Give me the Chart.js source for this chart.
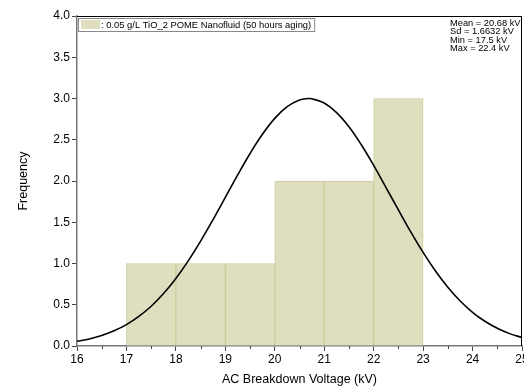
<!DOCTYPE html>
<html>
<head>
<meta charset="utf-8">
<script src="https://cdn.jsdelivr.net/npm/chart.js@4/dist/chart.umd.min.js"></script>
<style>
html,body{margin:0;padding:0;background:#fff;}
#wrap{width:524px;height:391px;position:relative;}
</style>
</head>
<body>
<div id="wrap"><canvas id="c" width="524" height="391"></canvas></div>
<script>
// Histogram bins (centers) and counts
const binCenters = [17.5, 18.5, 19.5, 20.5, 21.5, 22.5];
const binCounts  = [1, 1, 1, 2, 2, 3];
// Fitted normal curve
const curveX = [16,16.25,16.5,16.75,17,17.25,17.5,17.75,18,18.25,18.5,18.75,19,19.25,19.5,19.75,20,20.25,20.5,20.68,20.75,21,21.25,21.5,21.75,22,22.25,22.5,22.75,23,23.25,23.5,23.75,24,24.25,24.5,24.75,25];
const curveY = [0.057,0.086,0.128,0.184,0.259,0.358,0.482,0.636,0.819,1.032,1.271,1.530,1.801,2.073,2.333,2.566,2.759,2.901,2.983,3.0,2.997,2.945,2.829,2.657,2.439,2.189,1.921,1.649,1.383,1.134,0.909,0.713,0.546,0.409,0.300,0.215,0.150,0.103];
const xTicks = [16,17,18,19,20,21,22,23,24,25];
const legendLabel = ': 0.05 g/L TiO_2 POME Nanofluid (50 hours aging)';
const statsLines = ['Mean = 20.68 kV', 'Sd = 1.6632 kV', 'Min = 17.5 kV', 'Max = 22.4 kV'];

const FONT = '"Liberation Sans", Arial, sans-serif';

const decor = {
  id: 'decor',
  afterDraw(chart) {
    const ctx = chart.ctx;
    const a = chart.chartArea;
    const xs = chart.scales.x;
    ctx.save();
    // top and right frame
    ctx.strokeStyle = '#000';
    ctx.lineWidth = 1;
    ctx.beginPath();
    ctx.moveTo(a.left, a.top + 0.5);
    ctx.lineTo(a.right, a.top + 0.5);
    ctx.moveTo(a.right - 0.5, a.top);
    ctx.lineTo(a.right - 0.5, a.bottom);
    ctx.stroke();
    // minor x ticks
    ctx.strokeStyle = '#444';
    ctx.beginPath();
    for (let i = 0; i < xTicks.length - 1; i++) {
      const px = Math.round(xs.getPixelForValue(xTicks[i] + 0.5)) + 0.5;
      ctx.moveTo(px, a.bottom);
      ctx.lineTo(px, a.bottom + 3);
    }
    ctx.stroke();
    // legend box
    ctx.font = '9.4px ' + FONT;
    const lx = a.left + 1, ly = a.top + 2;
    const tw = ctx.measureText(legendLabel).width;
    const bw = 23 + tw + 3, bh = 13;
    ctx.fillStyle = '#fff';
    ctx.fillRect(lx, ly, bw, bh);
    ctx.strokeStyle = '#888';
    ctx.strokeRect(lx + 0.5, ly + 0.5, bw, bh);
    ctx.fillStyle = '#dfdfc0';
    ctx.fillRect(lx + 3, ly + 2, 19, 9);
    ctx.fillStyle = '#000';
    ctx.textBaseline = 'middle';
    ctx.fillText(legendLabel, lx + 23, ly + 7);
    // stats
    ctx.font = '9.3px ' + FONT;
    statsLines.forEach((s, i) => ctx.fillText(s, 450, 23 + i * 8.5));
    ctx.restore();
  }
};

new Chart(document.getElementById('c'), {
  data: {
    datasets: [
      {
        type: 'line',
        data: curveX.map((x, i) => ({x: x, y: curveY[i]})),
        borderColor: '#000',
        borderWidth: 1.6,
        pointRadius: 0,
        tension: 0.4,
        fill: false,
        order: 0
      },
      {
        type: 'bar',
        data: binCenters.map((x, i) => ({x: x, y: binCounts[i]})),
        backgroundColor: '#dfdfc0',
        borderColor: '#cdcd9e',
        borderWidth: 1,
        barPercentage: 1,
        categoryPercentage: 1,
        order: 1
      }
    ]
  },
  options: {
    responsive: false,
    animation: false,
    layout: { padding: { top: 16, right: 2, left: 12, bottom: 0 } },
    plugins: { legend: { display: false }, tooltip: { enabled: false } },
    scales: {
      x: {
        type: 'linear',
        offset: false,
        min: 16, max: 25,
        afterBuildTicks(s) { s.ticks = xTicks.map(v => ({value: v})); },
        afterFit(s) { s.height = 45; s.paddingLeft = 0; s.paddingRight = 0; },
        ticks: { font: { family: FONT, size: 12 }, color: '#000', padding: 1, maxRotation: 0, autoSkip: false },
        grid: { drawOnChartArea: false, offset: false, tickLength: 5, tickColor: '#444' },
        border: { color: '#777', width: 1.5 },
        title: { display: true, text: 'AC Breakdown Voltage (kV)', font: { family: FONT, size: 12.5 }, color: '#000', padding: { top: 3 } }
      },
      y: {
        min: 0, max: 4,
        ticks: { stepSize: 0.5, font: { family: FONT, size: 12 }, color: '#000', padding: 2, callback: v => v.toFixed(1) },
        afterFit(s) { s.width = 65; },
        grid: { drawOnChartArea: false, tickLength: 5, tickColor: '#444' },
        border: { color: '#777', width: 1.5 },
        title: { display: true, text: 'Frequency', font: { family: FONT, size: 12.5 }, color: '#000', padding: { bottom: 12 } }
      }
    }
  },
  plugins: [decor]
});
</script>
</body>
</html>
